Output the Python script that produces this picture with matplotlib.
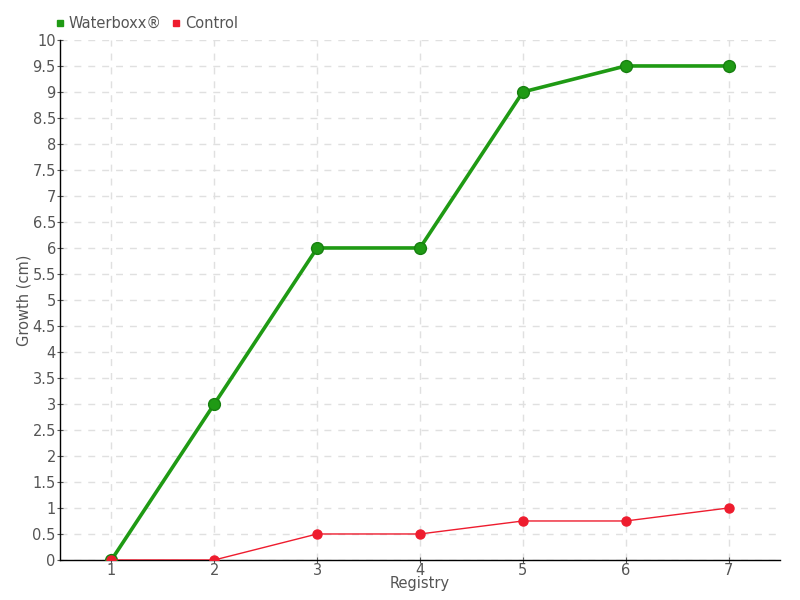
import matplotlib
matplotlib.use("Agg")
import matplotlib.pyplot as plt
import numpy as np

registry = [1, 2, 3, 4, 5, 6, 7]
waterboxx = [0, 3, 6, 6, 9, 9.5, 9.5]
control = [0, 0, 0.5, 0.5, 0.75, 0.75, 1]
yticks = np.arange(0, 10.01, 0.5)
ytick_labels = [("%g" % v) for v in yticks]

plt.rcParams['font.family'] = ['DejaVu Sans']
fig = plt.figure(figsize=(8, 6), dpi=100)
ax = fig.add_axes([0.075, 0.0667, 0.9, 0.8667])

green = '#1f9a14'
red = '#ee1c2e'
ax.plot(registry, waterboxx, color=green, lw=2.6, marker='o', ms=8.5,
        markerfacecolor=green, markeredgecolor='#178010', markeredgewidth=1, zorder=3,
        label='Waterboxx®')
ax.plot(registry, control, color=red, lw=1, marker='o', ms=6.5,
        markerfacecolor=red, markeredgecolor=red, zorder=4, label='Control')

ax.set_xlim(0.5, 7.5)
ax.set_ylim(0, 10)
ax.set_xticks(registry)
ax.set_yticks(yticks)
ax.set_yticklabels(ytick_labels)
ax.grid(True, ls=(0, (5, 5)), color='#e0e0e0', lw=1)
ax.set_axisbelow(True)
for s in ['top', 'right']:
    ax.spines[s].set_visible(False)
for s in ['left', 'bottom']:
    ax.spines[s].set_color('black')
    ax.spines[s].set_linewidth(1)
ax.tick_params(axis='both', colors='#555555', labelsize=10.5, length=4, direction='inout')
ax.tick_params(axis='x', pad=0)
ax.tick_params(axis='y', pad=1)
ax.set_xlabel('Registry', color='#555555', fontsize=10.5, labelpad=-1)
ax.set_ylabel('Growth (cm)', color='#555555', fontsize=10.5, labelpad=1)

leg = ax.legend(loc='lower left', bbox_to_anchor=(-0.018, 1.0), ncol=2, frameon=False,
                fontsize=10.5, handlelength=0.6, handletextpad=0.3, columnspacing=0.7,
                borderaxespad=0.2, labelcolor='#555555')
for h, c in zip(leg.legend_handles, [green, red]):
    h.set_marker('s')
    h.set_linestyle('')
    h.set_markersize(5)
    h.set_markerfacecolor(c)
    h.set_markeredgecolor(c)

fig.savefig('out.png', dpi=100)
